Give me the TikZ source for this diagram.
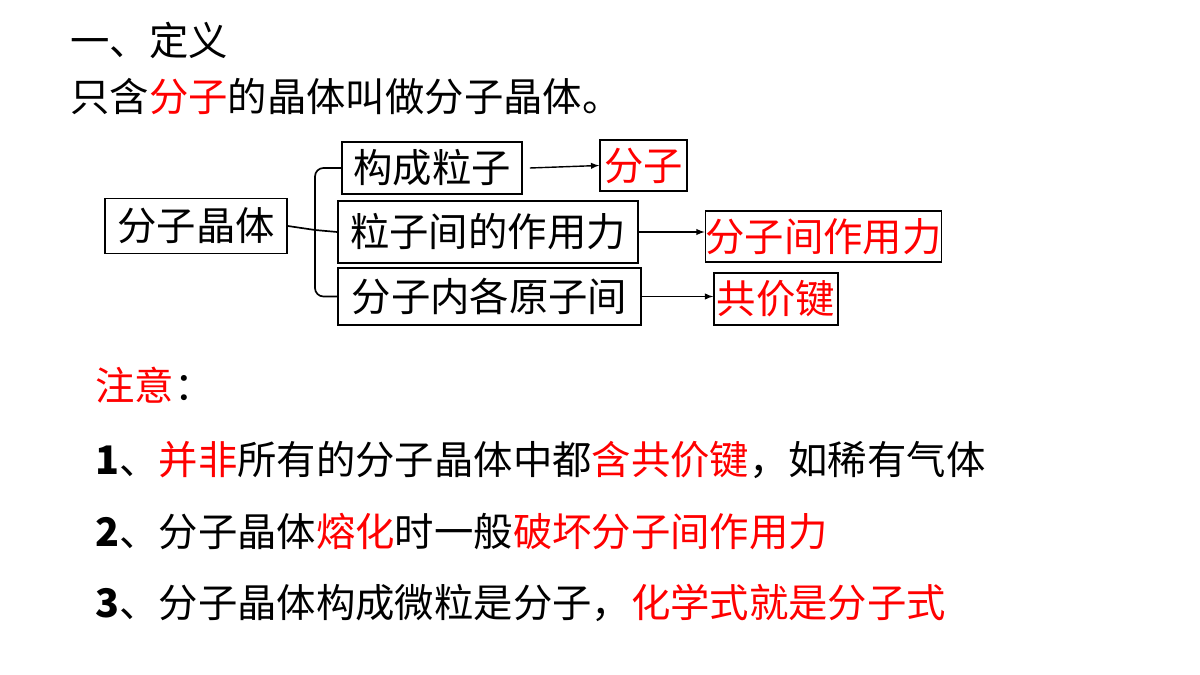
\documentclass[tikz,border=0pt]{standalone}
\usepackage{fontspec}
\setmainfont{Liberation Serif}
\newfontfamily\cjk{Noto Sans CJK SC}
\begin{document}
\begin{tikzpicture}[x=0.025cm,y=-0.025cm,
  txt/.style={inner sep=0pt,anchor=west,font=\cjk\fontsize{28}{30}\selectfont},
  bx/.style={draw,line width=1.2pt,inner sep=0pt,font=\cjk\fontsize{28}{30}\selectfont},
  ln/.style={line width=1.2pt,rounded corners=6pt},
  ar/.style={line width=1pt,-latex}]
\useasboundingbox (0,0) rectangle (1200,675);
\definecolor{rd}{RGB}{255,0,0}
\node[txt] (t1) at (70,40) {一、定义};
\node[txt] (t2) at (70,97) {只含\textcolor{rd}{分子}的晶体叫做分子晶体。};
\node[bx,minimum width=4.55cm,minimum height=1.375cm] (a) at (196,226) {分子晶体};
\node[bx,minimum width=4.5cm,minimum height=1.3cm] (b1) at (432,168) {构成粒子};
\node[bx,minimum width=7.5cm,minimum height=1.55cm] (b2) at (488,232) {粒子间的作用力};
\node[bx,minimum width=7.58cm,minimum height=1.425cm] (b3) at (489.5,296.5) {分子内各原子间};
\node[bx,minimum width=2.175cm,minimum height=1.275cm,text=rd] (c1) at (643.5,165.5) {分子};
\node[bx,minimum width=5.725cm,minimum height=1.275cm,text=rd] (c2) at (823.5,236.5) {分子间作用力};
\node[bx,minimum width=3.1cm,minimum height=1.3cm,text=rd] (c3) at (776,299) {共价键};
\coordinate (j) at (315,230);
\draw[ln] (a.east) -- (j);
\draw[ln] (b1.west) -| (j) |- (b3.west);
\draw[ln] (j) -- (b2.west);
\draw[ar] ([xshift=5pt]b1.east) -- (c1.west);
\draw[ar] (b2.east) -- (c2.west|-b2.east);
\draw[ar] (b3.east) -- (c3.west|-b3.east);
\node[txt,text=rd] (n0) at (95,385) {注意\textcolor{black}{：}};
\node[txt] (n1) at (95,460) {\textbf{1}、\textcolor{rd}{并非}所有的分子晶体中都\textcolor{rd}{含共价键}，如稀有气体};
\node[txt] (n2) at (95,532) {\textbf{2}、分子晶体\textcolor{rd}{熔化}时一般\textcolor{rd}{破坏分子间作用力}};
\node[txt] (n3) at (95,603) {\textbf{3}、分子晶体构成微粒是分子，\textcolor{rd}{化学式就是分子式}};
\end{tikzpicture}
\end{document}
